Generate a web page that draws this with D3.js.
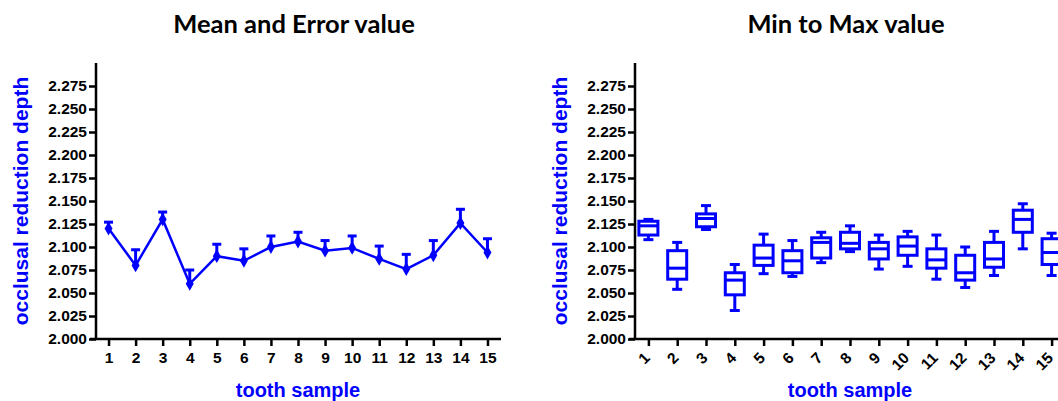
<!DOCTYPE html>
<html><head><meta charset="utf-8">
<script src="https://cdn.jsdelivr.net/npm/d3@7"></script>
<style>body{margin:0;background:#fff}svg{display:block}</style>
</head><body>
<svg id="c" width="1058" height="401"></svg>
<script>
const categories = ["1","2","3","4","5","6","7","8","9","10","11","12","13","14","15"];
const yTicks = [2.000,2.025,2.050,2.075,2.100,2.125,2.150,2.175,2.200,2.225,2.250,2.275];
// Left panel: mean and upper error bar
const means =    [2.120,2.080,2.130,2.060,2.090,2.085,2.100,2.106,2.096,2.099,2.087,2.076,2.091,2.126,2.094];
const errUpper = [2.127,2.097,2.138,2.075,2.103,2.098,2.112,2.116,2.107,2.112,2.101,2.092,2.107,2.141,2.109];
// Right panel: min / Q1 / median / Q3 / max
const mins =    [2.108,2.054,2.119,2.031,2.071,2.068,2.083,2.095,2.076,2.079,2.065,2.056,2.069,2.098,2.069];
const q1s =     [2.113,2.065,2.122,2.048,2.080,2.072,2.088,2.098,2.087,2.091,2.077,2.064,2.078,2.116,2.081];
const medians = [2.123,2.077,2.131,2.064,2.088,2.085,2.105,2.104,2.098,2.101,2.086,2.072,2.087,2.130,2.094];
const q3s =     [2.128,2.096,2.136,2.072,2.102,2.096,2.110,2.116,2.105,2.111,2.098,2.091,2.105,2.140,2.109];
const maxs =    [2.130,2.105,2.145,2.081,2.114,2.107,2.116,2.123,2.113,2.117,2.113,2.100,2.117,2.147,2.115];

const BLUE = "#0000ff";
const svg = d3.select("#c");
const y = d3.scaleLinear().domain([2.0, 2.3]).range([339, 63]);

function frame(x0, x1, title, rotateX) {
  const g = svg.append("g");
  const x = d3.scalePoint().domain(categories).range([x0, x1]).padding(0.5);
  const yAx = g.append("g").attr("transform", `translate(${x0+1},0)`)
    .call(d3.axisLeft(y).tickValues(yTicks).tickFormat(d3.format(".3f")).tickSize(7).tickPadding(2).tickSizeOuter(0));
  yAx.select(".domain").attr("d", `M0,${y(2.3)}V${y(2.0)}`);
  const xAx = g.append("g").attr("transform", `translate(0,339)`)
    .call(d3.axisBottom(x).tickSize(7).tickPadding(6).tickSizeOuter(0));
  xAx.select(".domain").attr("d", `M${x0-5},0H${x1}`);
  g.selectAll(".domain").attr("stroke", "#000").attr("stroke-width", 2.5);
  g.selectAll(".tick line").attr("stroke", "#000").attr("stroke-width", 2.5);
  g.selectAll(".tick text").attr("fill", "#000")
    .style("font-family", "'Liberation Sans', Arial, sans-serif")
    .style("font-weight", "bold").style("font-size", "15.5px");
  if (rotateX) {
    xAx.selectAll(".tick text")
      .attr("y", null).attr("dy", null)
      .attr("text-anchor", "end")
      .attr("transform", "translate(2,20) rotate(-45)");
  }
  const cx = (x0 + x1) / 2;
  svg.append("text").attr("x", cx - 4).attr("y", 33).attr("text-anchor", "middle")
    .style("font-family", "Lato, 'Open Sans', sans-serif").style("font-weight", "bold")
    .style("font-size", "25.5px").attr("fill", "#000").text(title);
  svg.append("text").attr("x", cx).attr("y", 397).attr("text-anchor", "middle")
    .style("font-family", "'Liberation Sans', Arial, sans-serif").style("font-weight", "bold")
    .style("font-size", "20px").attr("fill", BLUE).text("tooth sample");
  svg.append("text").attr("transform", `translate(${x0 - 67},201) rotate(-90)`).attr("text-anchor", "middle")
    .style("font-family", "'Liberation Sans', Arial, sans-serif").style("font-weight", "bold")
    .style("font-size", "21px").attr("fill", BLUE).text("occlusal reduction depth");
  return x;
}

// Left panel
const xL = frame(95, 501, "Mean and Error value", false);
const left = svg.append("g");
categories.forEach((c, i) => {
  const px = xL(c);
  left.append("line").attr("x1", px).attr("x2", px).attr("y1", y(means[i])).attr("y2", y(errUpper[i]))
    .attr("stroke", BLUE).attr("stroke-width", 3);
  left.append("line").attr("x1", px - 4.5).attr("x2", px + 4.5).attr("y1", y(errUpper[i])).attr("y2", y(errUpper[i]))
    .attr("stroke", BLUE).attr("stroke-width", 3);
});
left.append("path").datum(means)
  .attr("d", d3.line().x((d, i) => xL(categories[i])).y(d => y(d)))
  .attr("fill", "none").attr("stroke", BLUE).attr("stroke-width", 2.5);
left.selectAll(".pt").data(means).join("path")
  .attr("transform", (d, i) => `translate(${xL(categories[i])},${y(d)})`)
  .attr("d", d3.symbol(d3.symbolDiamond, 55))
  .attr("fill", BLUE);

// Right panel
const xR = frame(634, 1066, "Min to Max value", true);
const right = svg.append("g");
const bw = 19, cw = 10;
categories.forEach((c, i) => {
  const px = xR(c);
  const s = (sel) => sel.attr("stroke", BLUE).attr("stroke-width", 3);
  s(right.append("line").attr("x1", px).attr("x2", px).attr("y1", y(maxs[i])).attr("y2", y(mins[i])));
  s(right.append("line").attr("x1", px - cw/2).attr("x2", px + cw/2).attr("y1", y(maxs[i])).attr("y2", y(maxs[i])));
  s(right.append("line").attr("x1", px - cw/2).attr("x2", px + cw/2).attr("y1", y(mins[i])).attr("y2", y(mins[i])));
  s(right.append("rect").attr("x", px - bw/2).attr("width", bw)
    .attr("y", y(q3s[i])).attr("height", y(q1s[i]) - y(q3s[i])).attr("fill", "#fff"));
  s(right.append("line").attr("x1", px - bw/2).attr("x2", px + bw/2).attr("y1", y(medians[i])).attr("y2", y(medians[i])));
});
</script>
</body></html>
